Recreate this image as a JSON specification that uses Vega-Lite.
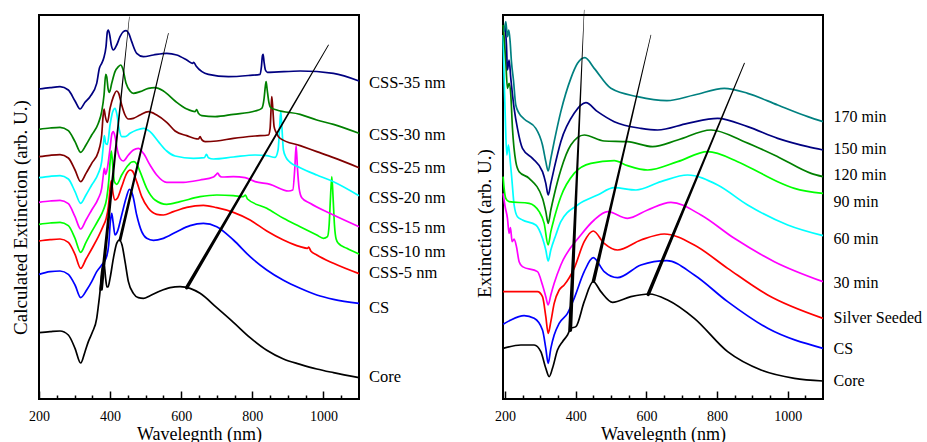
{
  "$schema": "https://vega.github.io/schema/vega-lite/v6.json",
  "padding": {"top": 8, "left": 10, "right": 0, "bottom": 0},
  "spacing": 27,
  "resolve": {"scale": {"color": "independent"}},
  "config": {
    "font": "Liberation Serif",
    "view": {"stroke": "black", "strokeWidth": 2},
    "axis": {
      "labelFont": "Liberation Serif",
      "titleFont": "Liberation Serif",
      "labelColor": "black",
      "titleColor": "black",
      "titleFontWeight": "normal",
      "grid": false,
      "domain": false,
      "tickColor": "black",
      "tickOpacity": 1,
      "zindex": 1
    }
  },
  "datasets": {
    "left": [
      {"s":"Core","nm":200,"ext":1.99},{"s":"Core","nm":231,"ext":2.02},{"s":"Core","nm":259.1,"ext":2.04},{"s":"Core","nm":282.5,"ext":1.92},{"s":"Core","nm":301.3,"ext":1.52},{"s":"Core","nm":317.2,"ext":1.08},{"s":"Core","nm":329.4,"ext":1.42},{"s":"Core","nm":338.8,"ext":1.72},{"s":"Core","nm":350,"ext":2.0},{"s":"Core","nm":362.3,"ext":2.42},{"s":"Core","nm":367,"ext":2.8},{"s":"Core","nm":371.6,"ext":3.22},{"s":"Core","nm":376.3,"ext":3.82},{"s":"Core","nm":380,"ext":4.02},{"s":"Core","nm":383.8,"ext":3.98},{"s":"Core","nm":387.6,"ext":3.6},{"s":"Core","nm":391,"ext":3.36},{"s":"Core","nm":394,"ext":3.36},{"s":"Core","nm":399.8,"ext":3.62},{"s":"Core","nm":409.2,"ext":4.22},{"s":"Core","nm":418.5,"ext":4.67},{"s":"Core","nm":426,"ext":4.77},{"s":"Core","nm":433.5,"ext":4.62},{"s":"Core","nm":442,"ext":4.12},{"s":"Core","nm":451.4,"ext":3.52},{"s":"Core","nm":465.4,"ext":3.17},{"s":"Core","nm":479.5,"ext":3.04},{"s":"Core","nm":493.6,"ext":3.02},{"s":"Core","nm":512.3,"ext":3.1},{"s":"Core","nm":540.5,"ext":3.24},{"s":"Core","nm":568.6,"ext":3.34},{"s":"Core","nm":596.7,"ext":3.37},{"s":"Core","nm":624.9,"ext":3.32},{"s":"Core","nm":653,"ext":3.17},{"s":"Core","nm":699.9,"ext":2.74},{"s":"Core","nm":746.8,"ext":2.3},{"s":"Core","nm":793.7,"ext":1.84},{"s":"Core","nm":840.6,"ext":1.46},{"s":"Core","nm":887.5,"ext":1.2},{"s":"Core","nm":934.4,"ext":1.04},{"s":"Core","nm":981.3,"ext":0.9},{"s":"Core","nm":1028.2,"ext":0.79},{"s":"Core","nm":1100,"ext":0.64},

      {"s":"CS","nm":200,"ext":3.74},{"s":"CS","nm":231,"ext":3.82},{"s":"CS","nm":259.1,"ext":3.84},{"s":"CS","nm":282.5,"ext":3.74},{"s":"CS","nm":301.3,"ext":3.42},{"s":"CS","nm":317.2,"ext":3.04},{"s":"CS","nm":334.1,"ext":3.27},{"s":"CS","nm":348.2,"ext":3.52},{"s":"CS","nm":362.3,"ext":3.82},{"s":"CS","nm":376.3,"ext":4.02},{"s":"CS","nm":388.5,"ext":4.22},{"s":"CS","nm":396,"ext":4.62},{"s":"CS","nm":400.7,"ext":5.32},{"s":"CS","nm":404.5,"ext":5.57},{"s":"CS","nm":408.2,"ext":5.32},{"s":"CS","nm":413.8,"ext":4.92},{"s":"CS","nm":420.4,"ext":5.02},{"s":"CS","nm":432.6,"ext":5.52},{"s":"CS","nm":444.8,"ext":6.02},{"s":"CS","nm":454.2,"ext":6.29},{"s":"CS","nm":463.5,"ext":6.12},{"s":"CS","nm":474.8,"ext":5.52},{"s":"CS","nm":488.9,"ext":5.02},{"s":"CS","nm":502.9,"ext":4.82},{"s":"CS","nm":521.7,"ext":4.76},{"s":"CS","nm":549.8,"ext":4.82},{"s":"CS","nm":587.4,"ext":5.02},{"s":"CS","nm":624.9,"ext":5.2},{"s":"CS","nm":662.4,"ext":5.27},{"s":"CS","nm":699.9,"ext":5.17},{"s":"CS","nm":746.8,"ext":4.77},{"s":"CS","nm":793.7,"ext":4.27},{"s":"CS","nm":840.6,"ext":3.87},{"s":"CS","nm":887.5,"ext":3.56},{"s":"CS","nm":934.4,"ext":3.32},{"s":"CS","nm":981.3,"ext":3.12},{"s":"CS","nm":1028.2,"ext":2.99},{"s":"CS","nm":1100,"ext":2.87},

      {"s":"CSS-5 nm","nm":200,"ext":4.74},{"s":"CSS-5 nm","nm":231,"ext":4.78},{"s":"CSS-5 nm","nm":259.1,"ext":4.8},{"s":"CSS-5 nm","nm":282.5,"ext":4.7},{"s":"CSS-5 nm","nm":301.3,"ext":4.34},{"s":"CSS-5 nm","nm":317.2,"ext":3.92},{"s":"CSS-5 nm","nm":332.2,"ext":4.2},{"s":"CSS-5 nm","nm":348.2,"ext":4.5},{"s":"CSS-5 nm","nm":366.9,"ext":4.87},{"s":"CSS-5 nm","nm":381,"ext":5.2},{"s":"CSS-5 nm","nm":388.5,"ext":5.4},{"s":"CSS-5 nm","nm":395.1,"ext":5.77},{"s":"CSS-5 nm","nm":399.8,"ext":6.3},{"s":"CSS-5 nm","nm":403.5,"ext":6.55},{"s":"CSS-5 nm","nm":408.2,"ext":6.17},{"s":"CSS-5 nm","nm":413.8,"ext":5.97},{"s":"CSS-5 nm","nm":420.4,"ext":6.02},{"s":"CSS-5 nm","nm":432.6,"ext":6.37},{"s":"CSS-5 nm","nm":446.7,"ext":6.77},{"s":"CSS-5 nm","nm":456,"ext":6.87},{"s":"CSS-5 nm","nm":462.6,"ext":6.84},{"s":"CSS-5 nm","nm":474.8,"ext":6.52},{"s":"CSS-5 nm","nm":488.9,"ext":6.07},{"s":"CSS-5 nm","nm":507.6,"ext":5.72},{"s":"CSS-5 nm","nm":531.1,"ext":5.54},{"s":"CSS-5 nm","nm":549.8,"ext":5.52},{"s":"CSS-5 nm","nm":578,"ext":5.62},{"s":"CSS-5 nm","nm":615.5,"ext":5.75},{"s":"CSS-5 nm","nm":662.4,"ext":5.81},{"s":"CSS-5 nm","nm":699.9,"ext":5.74},{"s":"CSS-5 nm","nm":746.8,"ext":5.6},{"s":"CSS-5 nm","nm":793.7,"ext":5.37},{"s":"CSS-5 nm","nm":840.6,"ext":5.04},{"s":"CSS-5 nm","nm":887.5,"ext":4.77},{"s":"CSS-5 nm","nm":934.4,"ext":4.57},{"s":"CSS-5 nm","nm":955,"ext":4.52},{"s":"CSS-5 nm","nm":958.7,"ext":4.56},{"s":"CSS-5 nm","nm":964.4,"ext":4.44},{"s":"CSS-5 nm","nm":981.3,"ext":4.32},{"s":"CSS-5 nm","nm":1028.2,"ext":4.07},{"s":"CSS-5 nm","nm":1100,"ext":3.76},

      {"s":"CSS-10 nm","nm":200,"ext":5.24},{"s":"CSS-10 nm","nm":231,"ext":5.28},{"s":"CSS-10 nm","nm":259.1,"ext":5.3},{"s":"CSS-10 nm","nm":282.5,"ext":5.2},{"s":"CSS-10 nm","nm":301.3,"ext":4.82},{"s":"CSS-10 nm","nm":317.2,"ext":4.4},{"s":"CSS-10 nm","nm":332.2,"ext":4.7},{"s":"CSS-10 nm","nm":348.2,"ext":5.02},{"s":"CSS-10 nm","nm":366.9,"ext":5.37},{"s":"CSS-10 nm","nm":381,"ext":5.67},{"s":"CSS-10 nm","nm":390.4,"ext":6.02},{"s":"CSS-10 nm","nm":396,"ext":6.52},{"s":"CSS-10 nm","nm":400.7,"ext":7.22},{"s":"CSS-10 nm","nm":403.5,"ext":7.44},{"s":"CSS-10 nm","nm":407.3,"ext":7.02},{"s":"CSS-10 nm","nm":412,"ext":6.52},{"s":"CSS-10 nm","nm":418.5,"ext":6.44},{"s":"CSS-10 nm","nm":432.6,"ext":6.72},{"s":"CSS-10 nm","nm":451.4,"ext":7.02},{"s":"CSS-10 nm","nm":460.7,"ext":7.11},{"s":"CSS-10 nm","nm":467.3,"ext":7.12},{"s":"CSS-10 nm","nm":474.8,"ext":7.05},{"s":"CSS-10 nm","nm":484.2,"ext":6.82},{"s":"CSS-10 nm","nm":502.9,"ext":6.32},{"s":"CSS-10 nm","nm":526.4,"ext":5.97},{"s":"CSS-10 nm","nm":559.2,"ext":5.84},{"s":"CSS-10 nm","nm":596.7,"ext":5.92},{"s":"CSS-10 nm","nm":653,"ext":6.07},{"s":"CSS-10 nm","nm":699.9,"ext":6.12},{"s":"CSS-10 nm","nm":746.8,"ext":6.1},{"s":"CSS-10 nm","nm":774.9,"ext":6.07},{"s":"CSS-10 nm","nm":780.6,"ext":6.12},{"s":"CSS-10 nm","nm":786.2,"ext":6.0},{"s":"CSS-10 nm","nm":840.6,"ext":5.72},{"s":"CSS-10 nm","nm":887.5,"ext":5.42},{"s":"CSS-10 nm","nm":934.4,"ext":5.17},{"s":"CSS-10 nm","nm":981.3,"ext":4.92},{"s":"CSS-10 nm","nm":1000,"ext":4.82},{"s":"CSS-10 nm","nm":1011.3,"ext":4.87},{"s":"CSS-10 nm","nm":1016,"ext":5.22},{"s":"CSS-10 nm","nm":1019.7,"ext":6.02},{"s":"CSS-10 nm","nm":1023.5,"ext":6.67},{"s":"CSS-10 nm","nm":1027.2,"ext":6.02},{"s":"CSS-10 nm","nm":1031,"ext":5.22},{"s":"CSS-10 nm","nm":1035.7,"ext":4.8},{"s":"CSS-10 nm","nm":1042.2,"ext":4.67},{"s":"CSS-10 nm","nm":1065.7,"ext":4.52},{"s":"CSS-10 nm","nm":1100,"ext":4.35},

      {"s":"CSS-15 nm","nm":200,"ext":5.9},{"s":"CSS-15 nm","nm":231,"ext":5.94},{"s":"CSS-15 nm","nm":259.1,"ext":5.96},{"s":"CSS-15 nm","nm":282.5,"ext":5.86},{"s":"CSS-15 nm","nm":301.3,"ext":5.47},{"s":"CSS-15 nm","nm":317.2,"ext":5.1},{"s":"CSS-15 nm","nm":332.2,"ext":5.37},{"s":"CSS-15 nm","nm":348.2,"ext":5.67},{"s":"CSS-15 nm","nm":366.9,"ext":6.02},{"s":"CSS-15 nm","nm":376.3,"ext":6.32},{"s":"CSS-15 nm","nm":381,"ext":6.72},{"s":"CSS-15 nm","nm":383.8,"ext":6.92},{"s":"CSS-15 nm","nm":387.6,"ext":6.74},{"s":"CSS-15 nm","nm":392.3,"ext":6.92},{"s":"CSS-15 nm","nm":399.8,"ext":7.52},{"s":"CSS-15 nm","nm":405.4,"ext":7.97},{"s":"CSS-15 nm","nm":409.2,"ext":8.02},{"s":"CSS-15 nm","nm":413.8,"ext":7.87},{"s":"CSS-15 nm","nm":420.4,"ext":7.47},{"s":"CSS-15 nm","nm":427.9,"ext":7.22},{"s":"CSS-15 nm","nm":437.3,"ext":7.14},{"s":"CSS-15 nm","nm":451.4,"ext":7.32},{"s":"CSS-15 nm","nm":465.4,"ext":7.47},{"s":"CSS-15 nm","nm":479.5,"ext":7.52},{"s":"CSS-15 nm","nm":493.6,"ext":7.37},{"s":"CSS-15 nm","nm":512.3,"ext":7.02},{"s":"CSS-15 nm","nm":531.1,"ext":6.72},{"s":"CSS-15 nm","nm":559.2,"ext":6.5},{"s":"CSS-15 nm","nm":606.1,"ext":6.5},{"s":"CSS-15 nm","nm":653,"ext":6.57},{"s":"CSS-15 nm","nm":690.5,"ext":6.66},{"s":"CSS-15 nm","nm":698,"ext":6.73},{"s":"CSS-15 nm","nm":702.7,"ext":6.78},{"s":"CSS-15 nm","nm":707.4,"ext":6.7},{"s":"CSS-15 nm","nm":714,"ext":6.66},{"s":"CSS-15 nm","nm":746.8,"ext":6.67},{"s":"CSS-15 nm","nm":779.6,"ext":6.64},{"s":"CSS-15 nm","nm":807.8,"ext":6.52},{"s":"CSS-15 nm","nm":850,"ext":6.44},{"s":"CSS-15 nm","nm":901.6,"ext":6.24},{"s":"CSS-15 nm","nm":913.8,"ext":6.27},{"s":"CSS-15 nm","nm":919.4,"ext":6.92},{"s":"CSS-15 nm","nm":923.1,"ext":7.6},{"s":"CSS-15 nm","nm":926.9,"ext":6.92},{"s":"CSS-15 nm","nm":931.6,"ext":6.32},{"s":"CSS-15 nm","nm":939.1,"ext":6.04},{"s":"CSS-15 nm","nm":962.5,"ext":5.87},{"s":"CSS-15 nm","nm":1028.2,"ext":5.52},{"s":"CSS-15 nm","nm":1100,"ext":5.17},

      {"s":"CSS-20 nm","nm":200,"ext":6.64},{"s":"CSS-20 nm","nm":231,"ext":6.68},{"s":"CSS-20 nm","nm":259.1,"ext":6.7},{"s":"CSS-20 nm","nm":282.5,"ext":6.6},{"s":"CSS-20 nm","nm":301.3,"ext":6.22},{"s":"CSS-20 nm","nm":317.2,"ext":5.87},{"s":"CSS-20 nm","nm":332.2,"ext":6.12},{"s":"CSS-20 nm","nm":348.2,"ext":6.42},{"s":"CSS-20 nm","nm":366.9,"ext":6.77},{"s":"CSS-20 nm","nm":376.3,"ext":7.12},{"s":"CSS-20 nm","nm":381,"ext":7.62},{"s":"CSS-20 nm","nm":383.8,"ext":7.9},{"s":"CSS-20 nm","nm":387.6,"ext":7.67},{"s":"CSS-20 nm","nm":392.3,"ext":7.64},{"s":"CSS-20 nm","nm":399.8,"ext":8.22},{"s":"CSS-20 nm","nm":407.3,"ext":8.62},{"s":"CSS-20 nm","nm":413.8,"ext":8.72},{"s":"CSS-20 nm","nm":418.5,"ext":8.57},{"s":"CSS-20 nm","nm":426,"ext":8.07},{"s":"CSS-20 nm","nm":432.6,"ext":7.87},{"s":"CSS-20 nm","nm":442,"ext":7.87},{"s":"CSS-20 nm","nm":456,"ext":7.97},{"s":"CSS-20 nm","nm":474.8,"ext":8.07},{"s":"CSS-20 nm","nm":493.6,"ext":8.12},{"s":"CSS-20 nm","nm":512.3,"ext":8.02},{"s":"CSS-20 nm","nm":535.8,"ext":7.72},{"s":"CSS-20 nm","nm":559.2,"ext":7.44},{"s":"CSS-20 nm","nm":582.7,"ext":7.29},{"s":"CSS-20 nm","nm":634.3,"ext":7.22},{"s":"CSS-20 nm","nm":665.2,"ext":7.24},{"s":"CSS-20 nm","nm":670.9,"ext":7.34},{"s":"CSS-20 nm","nm":676.5,"ext":7.24},{"s":"CSS-20 nm","nm":690.5,"ext":7.2},{"s":"CSS-20 nm","nm":746.8,"ext":7.26},{"s":"CSS-20 nm","nm":807.8,"ext":7.32},{"s":"CSS-20 nm","nm":840.6,"ext":7.3},{"s":"CSS-20 nm","nm":864,"ext":7.25},{"s":"CSS-20 nm","nm":872.4,"ext":7.47},{"s":"CSS-20 nm","nm":877.1,"ext":8.22},{"s":"CSS-20 nm","nm":880,"ext":8.62},{"s":"CSS-20 nm","nm":882.8,"ext":8.22},{"s":"CSS-20 nm","nm":887.5,"ext":7.47},{"s":"CSS-20 nm","nm":895,"ext":7.24},{"s":"CSS-20 nm","nm":906.3,"ext":7.1},{"s":"CSS-20 nm","nm":934.4,"ext":6.94},{"s":"CSS-20 nm","nm":981.3,"ext":6.72},{"s":"CSS-20 nm","nm":1028.2,"ext":6.52},{"s":"CSS-20 nm","nm":1100,"ext":6.1},

      {"s":"CSS-25 nm","nm":200,"ext":7.27},{"s":"CSS-25 nm","nm":231,"ext":7.31},{"s":"CSS-25 nm","nm":259.1,"ext":7.33},{"s":"CSS-25 nm","nm":282.5,"ext":7.23},{"s":"CSS-25 nm","nm":301.3,"ext":6.87},{"s":"CSS-25 nm","nm":317.2,"ext":6.52},{"s":"CSS-25 nm","nm":332.2,"ext":6.77},{"s":"CSS-25 nm","nm":348.2,"ext":7.07},{"s":"CSS-25 nm","nm":366.9,"ext":7.42},{"s":"CSS-25 nm","nm":376.3,"ext":7.92},{"s":"CSS-25 nm","nm":380.1,"ext":8.47},{"s":"CSS-25 nm","nm":382.9,"ext":8.7},{"s":"CSS-25 nm","nm":386.6,"ext":8.47},{"s":"CSS-25 nm","nm":392.3,"ext":8.3},{"s":"CSS-25 nm","nm":399.8,"ext":8.72},{"s":"CSS-25 nm","nm":409.2,"ext":9.07},{"s":"CSS-25 nm","nm":418.5,"ext":9.24},{"s":"CSS-25 nm","nm":424.2,"ext":9.17},{"s":"CSS-25 nm","nm":432.6,"ext":8.82},{"s":"CSS-25 nm","nm":442,"ext":8.52},{"s":"CSS-25 nm","nm":451.4,"ext":8.4},{"s":"CSS-25 nm","nm":465.4,"ext":8.42},{"s":"CSS-25 nm","nm":484.2,"ext":8.52},{"s":"CSS-25 nm","nm":507.6,"ext":8.62},{"s":"CSS-25 nm","nm":531.1,"ext":8.52},{"s":"CSS-25 nm","nm":559.2,"ext":8.3},{"s":"CSS-25 nm","nm":582.7,"ext":8.04},{"s":"CSS-25 nm","nm":615.5,"ext":7.9},{"s":"CSS-25 nm","nm":648.3,"ext":7.8},{"s":"CSS-25 nm","nm":653,"ext":7.87},{"s":"CSS-25 nm","nm":657.7,"ext":7.78},{"s":"CSS-25 nm","nm":667.1,"ext":7.72},{"s":"CSS-25 nm","nm":699.9,"ext":7.74},{"s":"CSS-25 nm","nm":746.8,"ext":7.82},{"s":"CSS-25 nm","nm":807.8,"ext":7.89},{"s":"CSS-25 nm","nm":845.3,"ext":7.92},{"s":"CSS-25 nm","nm":850,"ext":8.12},{"s":"CSS-25 nm","nm":852.8,"ext":8.72},{"s":"CSS-25 nm","nm":854.7,"ext":9.07},{"s":"CSS-25 nm","nm":857.5,"ext":8.72},{"s":"CSS-25 nm","nm":861.2,"ext":8.17},{"s":"CSS-25 nm","nm":866.9,"ext":8.0},{"s":"CSS-25 nm","nm":878.1,"ext":7.82},{"s":"CSS-25 nm","nm":934.4,"ext":7.6},{"s":"CSS-25 nm","nm":981.3,"ext":7.42},{"s":"CSS-25 nm","nm":1028.2,"ext":7.24},{"s":"CSS-25 nm","nm":1100,"ext":6.94},

      {"s":"CSS-30 nm","nm":200,"ext":8.09},{"s":"CSS-30 nm","nm":231,"ext":8.13},{"s":"CSS-30 nm","nm":259.1,"ext":8.15},{"s":"CSS-30 nm","nm":282.5,"ext":8.05},{"s":"CSS-30 nm","nm":301.3,"ext":7.72},{"s":"CSS-30 nm","nm":317.2,"ext":7.4},{"s":"CSS-30 nm","nm":332.2,"ext":7.62},{"s":"CSS-30 nm","nm":348.2,"ext":7.92},{"s":"CSS-30 nm","nm":366.9,"ext":8.27},{"s":"CSS-30 nm","nm":376.3,"ext":8.62},{"s":"CSS-30 nm","nm":382.9,"ext":9.12},{"s":"CSS-30 nm","nm":387.6,"ext":9.74},{"s":"CSS-30 nm","nm":390.4,"ext":9.67},{"s":"CSS-30 nm","nm":394.1,"ext":9.32},{"s":"CSS-30 nm","nm":397.9,"ext":9.2},{"s":"CSS-30 nm","nm":404.5,"ext":9.47},{"s":"CSS-30 nm","nm":413.8,"ext":9.82},{"s":"CSS-30 nm","nm":423.2,"ext":9.97},{"s":"CSS-30 nm","nm":429.8,"ext":10.02},{"s":"CSS-30 nm","nm":435.4,"ext":9.92},{"s":"CSS-30 nm","nm":444.8,"ext":9.47},{"s":"CSS-30 nm","nm":456,"ext":9.24},{"s":"CSS-30 nm","nm":465.4,"ext":9.17},{"s":"CSS-30 nm","nm":484.2,"ext":9.22},{"s":"CSS-30 nm","nm":507.6,"ext":9.32},{"s":"CSS-30 nm","nm":526.4,"ext":9.34},{"s":"CSS-30 nm","nm":549.8,"ext":9.24},{"s":"CSS-30 nm","nm":582.7,"ext":8.94},{"s":"CSS-30 nm","nm":615.5,"ext":8.7},{"s":"CSS-30 nm","nm":639,"ext":8.62},{"s":"CSS-30 nm","nm":643.6,"ext":8.68},{"s":"CSS-30 nm","nm":648.3,"ext":8.57},{"s":"CSS-30 nm","nm":657.7,"ext":8.5},{"s":"CSS-30 nm","nm":695.2,"ext":8.47},{"s":"CSS-30 nm","nm":746.8,"ext":8.54},{"s":"CSS-30 nm","nm":807.8,"ext":8.64},{"s":"CSS-30 nm","nm":826.5,"ext":8.72},{"s":"CSS-30 nm","nm":833.1,"ext":9.02},{"s":"CSS-30 nm","nm":836.8,"ext":9.4},{"s":"CSS-30 nm","nm":838.7,"ext":9.52},{"s":"CSS-30 nm","nm":841.5,"ext":9.3},{"s":"CSS-30 nm","nm":846.2,"ext":8.92},{"s":"CSS-30 nm","nm":851.8,"ext":8.74},{"s":"CSS-30 nm","nm":868.7,"ext":8.67},{"s":"CSS-30 nm","nm":934.4,"ext":8.54},{"s":"CSS-30 nm","nm":981.3,"ext":8.37},{"s":"CSS-30 nm","nm":1028.2,"ext":8.24},{"s":"CSS-30 nm","nm":1100,"ext":7.97},

      {"s":"CSS-35 nm","nm":200,"ext":9.3},{"s":"CSS-35 nm","nm":231,"ext":9.34},{"s":"CSS-35 nm","nm":259.1,"ext":9.37},{"s":"CSS-35 nm","nm":282.5,"ext":9.27},{"s":"CSS-35 nm","nm":301.3,"ext":8.94},{"s":"CSS-35 nm","nm":315.4,"ext":8.7},{"s":"CSS-35 nm","nm":329.4,"ext":8.9},{"s":"CSS-35 nm","nm":343.5,"ext":9.07},{"s":"CSS-35 nm","nm":362.3,"ext":9.47},{"s":"CSS-35 nm","nm":369.8,"ext":9.92},{"s":"CSS-35 nm","nm":376.3,"ext":10.07},{"s":"CSS-35 nm","nm":381.9,"ext":10.22},{"s":"CSS-35 nm","nm":388.5,"ext":10.57},{"s":"CSS-35 nm","nm":392.3,"ext":11.02},{"s":"CSS-35 nm","nm":395.1,"ext":11.07},{"s":"CSS-35 nm","nm":398.9,"ext":10.92},{"s":"CSS-35 nm","nm":403.6,"ext":10.6},{"s":"CSS-35 nm","nm":409.2,"ext":10.47},{"s":"CSS-35 nm","nm":418.5,"ext":10.62},{"s":"CSS-35 nm","nm":427.9,"ext":10.87},{"s":"CSS-35 nm","nm":437.3,"ext":11.02},{"s":"CSS-35 nm","nm":444.8,"ext":11.05},{"s":"CSS-35 nm","nm":452.3,"ext":10.97},{"s":"CSS-35 nm","nm":460.7,"ext":10.72},{"s":"CSS-35 nm","nm":474.8,"ext":10.37},{"s":"CSS-35 nm","nm":493.6,"ext":10.27},{"s":"CSS-35 nm","nm":521.7,"ext":10.32},{"s":"CSS-35 nm","nm":559.2,"ext":10.37},{"s":"CSS-35 nm","nm":587.4,"ext":10.32},{"s":"CSS-35 nm","nm":615.5,"ext":10.17},{"s":"CSS-35 nm","nm":631.5,"ext":10.07},{"s":"CSS-35 nm","nm":635.2,"ext":10.1},{"s":"CSS-35 nm","nm":641.8,"ext":9.99},{"s":"CSS-35 nm","nm":676.5,"ext":9.74},{"s":"CSS-35 nm","nm":732.7,"ext":9.67},{"s":"CSS-35 nm","nm":793.7,"ext":9.71},{"s":"CSS-35 nm","nm":821.8,"ext":9.74},{"s":"CSS-35 nm","nm":825.6,"ext":9.97},{"s":"CSS-35 nm","nm":828.4,"ext":10.3},{"s":"CSS-35 nm","nm":830.3,"ext":10.34},{"s":"CSS-35 nm","nm":833.1,"ext":10.1},{"s":"CSS-35 nm","nm":836.8,"ext":9.87},{"s":"CSS-35 nm","nm":842.4,"ext":9.8},{"s":"CSS-35 nm","nm":934.4,"ext":9.84},{"s":"CSS-35 nm","nm":1028.2,"ext":9.77},{"s":"CSS-35 nm","nm":1100,"ext":9.54}
    ],
    "leftTracks": [
      {"g":"a","nm":375,"ext":3.3},{"g":"a","nm":454.2,"ext":11.47},
      {"g":"b","nm":427.9,"ext":4.77},{"g":"b","nm":563.9,"ext":10.97},
      {"g":"c","nm":615.5,"ext":3.34},{"g":"c","nm":1014.1,"ext":10.62}
    ],
    "leftLabels": [
      {"label":"CSS-35 nm","nm":1128,"ext":9.47},{"label":"CSS-30 nm","nm":1128,"ext":7.92},{"label":"CSS-25 nm","nm":1128,"ext":6.92},{"label":"CSS-20 nm","nm":1128,"ext":6.02},{"label":"CSS-15 nm","nm":1128,"ext":5.14},{"label":"CSS-10 nm","nm":1128,"ext":4.4},{"label":"CSS-5 nm","nm":1128,"ext":3.77},{"label":"CS","nm":1128,"ext":2.74},{"label":"Core","nm":1128,"ext":0.65}
    ],
    "right": [
      {"s":"Core","nm":194.3,"ext":1.52},{"s":"Core","nm":244.4,"ext":1.62},{"s":"Core","nm":282.2,"ext":1.62},{"s":"Core","nm":301.1,"ext":1.42},{"s":"Core","nm":315.2,"ext":0.92},{"s":"Core","nm":324.7,"ext":0.67},{"s":"Core","nm":334.1,"ext":0.92},{"s":"Core","nm":348.3,"ext":1.47},{"s":"Core","nm":362.5,"ext":1.72},{"s":"Core","nm":376.6,"ext":1.92},{"s":"Core","nm":386.1,"ext":2.12},{"s":"Core","nm":400.3,"ext":2.17},{"s":"Core","nm":423.9,"ext":2.92},{"s":"Core","nm":449.4,"ext":3.52},{"s":"Core","nm":471.1,"ext":3.22},{"s":"Core","nm":504.2,"ext":2.9},{"s":"Core","nm":556.1,"ext":3.07},{"s":"Core","nm":608.1,"ext":3.15},{"s":"Core","nm":660,"ext":2.97},{"s":"Core","nm":735.6,"ext":2.42},{"s":"Core","nm":830,"ext":1.42},{"s":"Core","nm":924.5,"ext":0.87},{"s":"Core","nm":1019,"ext":0.62},{"s":"Core","nm":1100,"ext":0.54},

      {"s":"CS","nm":194.3,"ext":2.24},{"s":"CS","nm":216.1,"ext":2.37},{"s":"CS","nm":253.8,"ext":2.5},{"s":"CS","nm":282.2,"ext":2.42},{"s":"CS","nm":305.8,"ext":2.07},{"s":"CS","nm":315.2,"ext":1.52},{"s":"CS","nm":321.9,"ext":1.07},{"s":"CS","nm":329.4,"ext":1.52},{"s":"CS","nm":338.9,"ext":1.92},{"s":"CS","nm":353,"ext":2.27},{"s":"CS","nm":376.6,"ext":2.57},{"s":"CS","nm":395.5,"ext":3.02},{"s":"CS","nm":423.9,"ext":3.82},{"s":"CS","nm":449.4,"ext":4.24},{"s":"CS","nm":480.5,"ext":3.82},{"s":"CS","nm":518.3,"ext":3.64},{"s":"CS","nm":584.5,"ext":4.02},{"s":"CS","nm":658.1,"ext":4.15},{"s":"CS","nm":735.6,"ext":3.72},{"s":"CS","nm":830,"ext":2.92},{"s":"CS","nm":943.4,"ext":2.12},{"s":"CS","nm":1100,"ext":1.52},

      {"s":"Silver Seeded","nm":194.3,"ext":3.22},{"s":"Silver Seeded","nm":291.6,"ext":3.22},{"s":"Silver Seeded","nm":305.8,"ext":3.07},{"s":"Silver Seeded","nm":315.2,"ext":2.47},{"s":"Silver Seeded","nm":321.9,"ext":1.97},{"s":"Silver Seeded","nm":329.4,"ext":2.32},{"s":"Silver Seeded","nm":338.9,"ext":2.87},{"s":"Silver Seeded","nm":353,"ext":3.27},{"s":"Silver Seeded","nm":367.2,"ext":3.42},{"s":"Silver Seeded","nm":395.5,"ext":3.92},{"s":"Silver Seeded","nm":423.9,"ext":4.72},{"s":"Silver Seeded","nm":449.4,"ext":5.04},{"s":"Silver Seeded","nm":480.5,"ext":4.67},{"s":"Silver Seeded","nm":518.3,"ext":4.47},{"s":"Silver Seeded","nm":584.5,"ext":4.77},{"s":"Silver Seeded","nm":650.6,"ext":4.95},{"s":"Silver Seeded","nm":735.6,"ext":4.62},{"s":"Silver Seeded","nm":830,"ext":3.92},{"s":"Silver Seeded","nm":943.4,"ext":3.12},{"s":"Silver Seeded","nm":1100,"ext":2.42},

      {"s":"30 min","nm":194.3,"ext":6.17},{"s":"30 min","nm":200,"ext":5.77},{"s":"30 min","nm":206.6,"ext":5.42},{"s":"30 min","nm":211.3,"ext":4.97},{"s":"30 min","nm":215.1,"ext":5.14},{"s":"30 min","nm":219.8,"ext":4.72},{"s":"30 min","nm":225.5,"ext":4.8},{"s":"30 min","nm":232.1,"ext":4.57},{"s":"30 min","nm":239.7,"ext":4.12},{"s":"30 min","nm":249.1,"ext":3.97},{"s":"30 min","nm":291.6,"ext":3.82},{"s":"30 min","nm":305.8,"ext":3.42},{"s":"30 min","nm":315.2,"ext":3.07},{"s":"30 min","nm":321.9,"ext":2.82},{"s":"30 min","nm":329.4,"ext":3.12},{"s":"30 min","nm":338.9,"ext":3.47},{"s":"30 min","nm":357.7,"ext":4.02},{"s":"30 min","nm":414.4,"ext":4.92},{"s":"30 min","nm":452.2,"ext":5.37},{"s":"30 min","nm":490,"ext":5.62},{"s":"30 min","nm":546.7,"ext":5.42},{"s":"30 min","nm":603.4,"ext":5.67},{"s":"30 min","nm":669.5,"ext":5.9},{"s":"30 min","nm":754.5,"ext":5.52},{"s":"30 min","nm":848.9,"ext":4.82},{"s":"30 min","nm":962.3,"ext":4.12},{"s":"30 min","nm":1100,"ext":3.52},

      {"s":"60 min","nm":194.3,"ext":10.92},{"s":"60 min","nm":197.2,"ext":9.62},{"s":"60 min","nm":200,"ext":8.62},{"s":"60 min","nm":204.7,"ext":7.32},{"s":"60 min","nm":209.4,"ext":7.62},{"s":"60 min","nm":214.2,"ext":7.17},{"s":"60 min","nm":218.9,"ext":6.62},{"s":"60 min","nm":225.5,"ext":5.82},{"s":"60 min","nm":234.9,"ext":5.47},{"s":"60 min","nm":249.1,"ext":5.37},{"s":"60 min","nm":286.9,"ext":5.22},{"s":"60 min","nm":305.8,"ext":4.82},{"s":"60 min","nm":315.2,"ext":4.47},{"s":"60 min","nm":321.9,"ext":4.14},{"s":"60 min","nm":329.4,"ext":4.47},{"s":"60 min","nm":343.6,"ext":4.92},{"s":"60 min","nm":357.7,"ext":5.32},{"s":"60 min","nm":405,"ext":5.82},{"s":"60 min","nm":461.7,"ext":6.12},{"s":"60 min","nm":508.9,"ext":6.34},{"s":"60 min","nm":570.3,"ext":6.27},{"s":"60 min","nm":641.1,"ext":6.52},{"s":"60 min","nm":716.7,"ext":6.72},{"s":"60 min","nm":801.7,"ext":6.42},{"s":"60 min","nm":886.7,"ext":5.82},{"s":"60 min","nm":1000.1,"ext":5.22},{"s":"60 min","nm":1100,"ext":4.9},

      {"s":"90 min","nm":194.3,"ext":6.67},{"s":"90 min","nm":197.2,"ext":6.32},{"s":"90 min","nm":201.9,"ext":6.02},{"s":"90 min","nm":211.3,"ext":5.92},{"s":"90 min","nm":268,"ext":5.87},{"s":"90 min","nm":296.4,"ext":5.62},{"s":"90 min","nm":310.5,"ext":5.27},{"s":"90 min","nm":321.9,"ext":4.62},{"s":"90 min","nm":329.4,"ext":5.02},{"s":"90 min","nm":338.9,"ext":5.42},{"s":"90 min","nm":357.7,"ext":6.07},{"s":"90 min","nm":395.5,"ext":6.77},{"s":"90 min","nm":442.8,"ext":7.07},{"s":"90 min","nm":508.9,"ext":7.15},{"s":"90 min","nm":546.7,"ext":7.0},{"s":"90 min","nm":603.4,"ext":6.87},{"s":"90 min","nm":688.4,"ext":7.12},{"s":"90 min","nm":773.4,"ext":7.42},{"s":"90 min","nm":858.4,"ext":7.12},{"s":"90 min","nm":924.5,"ext":6.77},{"s":"90 min","nm":971.7,"ext":6.52},{"s":"90 min","nm":1019,"ext":6.32},{"s":"90 min","nm":1100,"ext":6.17},

      {"s":"120 min","nm":194.3,"ext":11.22},{"s":"120 min","nm":198.1,"ext":10.72},{"s":"120 min","nm":201.9,"ext":10.12},{"s":"120 min","nm":206.6,"ext":9.32},{"s":"120 min","nm":211.3,"ext":9.47},{"s":"120 min","nm":216.1,"ext":9.12},{"s":"120 min","nm":220.8,"ext":8.12},{"s":"120 min","nm":230.2,"ext":7.12},{"s":"120 min","nm":239.7,"ext":6.82},{"s":"120 min","nm":268,"ext":6.62},{"s":"120 min","nm":305.8,"ext":6.02},{"s":"120 min","nm":315.2,"ext":5.62},{"s":"120 min","nm":321.9,"ext":5.27},{"s":"120 min","nm":329.4,"ext":5.67},{"s":"120 min","nm":338.9,"ext":6.12},{"s":"120 min","nm":357.7,"ext":6.87},{"s":"120 min","nm":386.1,"ext":7.62},{"s":"120 min","nm":423.9,"ext":7.92},{"s":"120 min","nm":480.5,"ext":7.74},{"s":"120 min","nm":546.7,"ext":7.72},{"s":"120 min","nm":617.5,"ext":7.57},{"s":"120 min","nm":688.4,"ext":7.77},{"s":"120 min","nm":782.8,"ext":8.07},{"s":"120 min","nm":877.3,"ext":7.72},{"s":"120 min","nm":971.7,"ext":7.27},{"s":"120 min","nm":1066.2,"ext":6.77},{"s":"120 min","nm":1100,"ext":6.67},

      {"s":"150 min","nm":200,"ext":11.17},{"s":"150 min","nm":203.8,"ext":10.62},{"s":"150 min","nm":206.6,"ext":9.87},{"s":"150 min","nm":211.3,"ext":10.17},{"s":"150 min","nm":216.1,"ext":9.62},{"s":"150 min","nm":225.5,"ext":8.72},{"s":"150 min","nm":234.9,"ext":8.12},{"s":"150 min","nm":249.1,"ext":7.52},{"s":"150 min","nm":277.5,"ext":7.22},{"s":"150 min","nm":305.8,"ext":6.82},{"s":"150 min","nm":315.2,"ext":6.47},{"s":"150 min","nm":321.9,"ext":6.12},{"s":"150 min","nm":329.4,"ext":6.47},{"s":"150 min","nm":338.9,"ext":6.92},{"s":"150 min","nm":357.7,"ext":7.72},{"s":"150 min","nm":395.5,"ext":8.57},{"s":"150 min","nm":428.6,"ext":8.89},{"s":"150 min","nm":461.7,"ext":8.62},{"s":"150 min","nm":508.9,"ext":8.32},{"s":"150 min","nm":584.5,"ext":8.12},{"s":"150 min","nm":631.7,"ext":8.07},{"s":"150 min","nm":716.7,"ext":8.27},{"s":"150 min","nm":801.7,"ext":8.42},{"s":"150 min","nm":886.7,"ext":8.17},{"s":"150 min","nm":971.7,"ext":7.82},{"s":"150 min","nm":1056.8,"ext":7.57},{"s":"150 min","nm":1100,"ext":7.47},

      {"s":"170 min","nm":197.2,"ext":11.02},{"s":"170 min","nm":201.9,"ext":11.32},{"s":"170 min","nm":206.6,"ext":10.87},{"s":"170 min","nm":210.4,"ext":11.07},{"s":"170 min","nm":214.2,"ext":10.72},{"s":"170 min","nm":217.9,"ext":10.12},{"s":"170 min","nm":223.6,"ext":9.57},{"s":"170 min","nm":230.2,"ext":8.82},{"s":"170 min","nm":239.7,"ext":8.57},{"s":"170 min","nm":253.8,"ext":8.4},{"s":"170 min","nm":286.9,"ext":8.12},{"s":"170 min","nm":305.8,"ext":7.62},{"s":"170 min","nm":315.2,"ext":7.12},{"s":"170 min","nm":321.9,"ext":6.84},{"s":"170 min","nm":329.4,"ext":7.22},{"s":"170 min","nm":338.9,"ext":7.72},{"s":"170 min","nm":357.7,"ext":8.62},{"s":"170 min","nm":386.1,"ext":9.62},{"s":"170 min","nm":405,"ext":10.07},{"s":"170 min","nm":425.8,"ext":10.24},{"s":"170 min","nm":452.2,"ext":9.92},{"s":"170 min","nm":499.4,"ext":9.32},{"s":"170 min","nm":575,"ext":9.07},{"s":"170 min","nm":658.1,"ext":8.95},{"s":"170 min","nm":735.6,"ext":9.12},{"s":"170 min","nm":820.6,"ext":9.32},{"s":"170 min","nm":886.7,"ext":9.17},{"s":"170 min","nm":971.7,"ext":8.82},{"s":"170 min","nm":1056.8,"ext":8.47},{"s":"170 min","nm":1100,"ext":8.32}
    ],
    "rightTracks": [
      {"g":"a","nm":384.2,"ext":2.07},{"g":"a","nm":423.9,"ext":11.67},
      {"g":"b","nm":450.3,"ext":3.54},{"g":"b","nm":612.8,"ext":10.92},
      {"g":"c","nm":605.2,"ext":3.14},{"g":"c","nm":877.3,"ext":10.07}
    ],
    "rightLabels": [
      {"label":"170 min","nm":1130,"ext":8.45},{"label":"150 min","nm":1130,"ext":7.49},{"label":"120 min","nm":1130,"ext":6.71},{"label":"90 min","nm":1130,"ext":5.9},{"label":"60 min","nm":1130,"ext":4.79},{"label":"30 min","nm":1130,"ext":3.47},{"label":"Silver Seeded","nm":1130,"ext":2.44},{"label":"CS","nm":1130,"ext":1.5},{"label":"Core","nm":1130,"ext":0.54}
    ]
  },
  "hconcat": [
    {
      "width": 320,
      "height": 384,
      "encoding": {
        "y": {
          "field": "ext", "type": "quantitative",
          "scale": {"domain": [0, 11.52], "nice": false, "zero": false},
          "axis": {"ticks": false, "labels": false, "title": "Calculated Extinction (arb. U.)", "titleFontSize": 19, "titlePadding": 9, "titleY": 202}
        }
      },
      "layer": [
        {
          "data": {"name": "left"},
          "mark": {"type": "line", "strokeWidth": 1.7, "interpolate": "monotone"},
          "encoding": {
            "x": {
              "field": "nm", "type": "quantitative",
              "scale": {"domain": [200, 1100], "nice": false, "zero": false},
              "axis": {"orient": "bottom", "values": [200, 400, 600, 800, 1000], "format": "d", "offset": -8, "ticks": true, "tickSize": 8, "tickWidth": 1.5, "labelFontSize": 14, "labelPadding": 10, "labelFlush": false, "title": "Wavelegnth (nm)", "titleFontSize": 18, "titlePadding": 2}
            },
            "color": {
              "field": "s", "type": "nominal", "legend": null,
              "scale": {
                "domain": ["Core", "CS", "CSS-5 nm", "CSS-10 nm", "CSS-15 nm", "CSS-20 nm", "CSS-25 nm", "CSS-30 nm", "CSS-35 nm"],
                "range": ["#000000", "#0000ff", "#ff0000", "#00ff00", "#ff00ff", "#00ffff", "#800000", "#008000", "#000080"]
              }
            }
          }
        },
        {
          "data": {"name": "leftTracks"},
          "mark": {"type": "trail", "color": "black"},
          "encoding": {
            "x": {
              "field": "nm", "type": "quantitative",
              "scale": {"domain": [200, 1100], "nice": false, "zero": false},
              "axis": {"orient": "bottom", "values": [250, 300, 350, 450, 500, 550, 650, 700, 750, 850, 900, 950, 1050], "offset": -4, "ticks": true, "tickSize": 4, "tickWidth": 1.5, "labels": false, "title": null}
            },
            "detail": {"field": "g", "type": "nominal"},
            "size": {"field": "ext", "type": "quantitative", "legend": null, "scale": {"domain": [2, 12], "range": [4, 0.3]}}
          }
        },
        {
          "data": {"name": "leftLabels"},
          "mark": {"type": "text", "align": "left", "baseline": "middle", "fontSize": 16.5, "font": "Liberation Serif", "color": "black"},
          "encoding": {
            "x": {"field": "nm", "type": "quantitative", "scale": {"domain": [200, 1100], "nice": false, "zero": false}, "axis": null},
            "text": {"field": "label", "type": "nominal"}
          }
        }
      ],
      "resolve": {"axis": {"x": "independent"}}
    },
    {
      "width": 320,
      "height": 384,
      "encoding": {
        "y": {
          "field": "ext", "type": "quantitative",
          "scale": {"domain": [0, 11.52], "nice": false, "zero": false},
          "axis": {"ticks": false, "labels": false, "title": "Extinction (arb. U.)", "titleFontSize": 19, "titlePadding": 9, "titleY": 208}
        }
      },
      "layer": [
        {
          "data": {"name": "right"},
          "mark": {"type": "line", "strokeWidth": 1.7, "interpolate": "monotone"},
          "encoding": {
            "x": {
              "field": "nm", "type": "quantitative",
              "scale": {"domain": [194, 1100], "nice": false, "zero": false},
              "axis": {"orient": "bottom", "values": [200, 400, 600, 800, 1000], "format": "d", "offset": -8, "ticks": true, "tickSize": 8, "tickWidth": 1.5, "labelFontSize": 14, "labelPadding": 10, "labelFlush": false, "title": "Wavelegnth (nm)", "titleFontSize": 18, "titlePadding": 2}
            },
            "color": {
              "field": "s", "type": "nominal", "legend": null,
              "scale": {
                "domain": ["Core", "CS", "Silver Seeded", "30 min", "60 min", "90 min", "120 min", "150 min", "170 min"],
                "range": ["#000000", "#0000ff", "#ff0000", "#ff00ff", "#00ffff", "#00ff00", "#008000", "#000080", "#008080"]
              }
            }
          }
        },
        {
          "data": {"name": "rightTracks"},
          "mark": {"type": "trail", "color": "black"},
          "encoding": {
            "x": {
              "field": "nm", "type": "quantitative",
              "scale": {"domain": [194, 1100], "nice": false, "zero": false},
              "axis": {"orient": "bottom", "values": [250, 300, 350, 450, 500, 550, 650, 700, 750, 850, 900, 950, 1050], "offset": -4, "ticks": true, "tickSize": 4, "tickWidth": 1.5, "labels": false, "title": null}
            },
            "detail": {"field": "g", "type": "nominal"},
            "size": {"field": "ext", "type": "quantitative", "legend": null, "scale": {"domain": [2, 12], "range": [4, 0.3]}}
          }
        },
        {
          "data": {"name": "rightLabels"},
          "mark": {"type": "text", "align": "left", "baseline": "middle", "fontSize": 16, "font": "Liberation Serif", "color": "black"},
          "encoding": {
            "x": {"field": "nm", "type": "quantitative", "scale": {"domain": [194, 1100], "nice": false, "zero": false}, "axis": null},
            "text": {"field": "label", "type": "nominal"}
          }
        }
      ],
      "resolve": {"axis": {"x": "independent"}}
    }
  ]
}
